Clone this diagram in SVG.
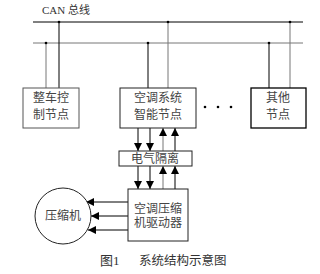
<svg xmlns="http://www.w3.org/2000/svg" width="320" height="274" viewBox="0 0 320 274">
<defs>
<style>
.ln{stroke:#000;stroke-width:1;fill:none}
.gl{stroke:#777;stroke-width:1;fill:none}
.bx{stroke:#222;stroke-width:1;fill:#fff}
.t{font-family:"Liberation Serif","Noto Sans CJK SC",serif;font-size:12px;fill:#444;text-anchor:middle}
.c{font-family:"Liberation Serif","Noto Sans CJK SC",serif;font-size:11px;fill:#333}
</style>
<marker id="ah" viewBox="0 0 8 8" refX="8" refY="4" markerWidth="8" markerHeight="8" markerUnits="userSpaceOnUse" orient="auto">
<path d="M0,0 L8,4 L0,8 Z" fill="#000"/>
</marker>
</defs>
<text class="c" x="42" y="14">CAN 总线</text>
<g id="connectors">
<line class="ln" x1="33" y1="22" x2="303" y2="22"/>
<line class="gl" x1="33" y1="43" x2="303" y2="43"/>
<line class="gl" x1="46" y1="43" x2="46" y2="88"/>
<line class="ln" x1="59" y1="22" x2="59" y2="88"/>
<line class="ln" x1="148" y1="43" x2="148" y2="88"/>
<line class="gl" x1="168" y1="22" x2="168" y2="88"/>
<line class="ln" x1="269" y1="43" x2="269" y2="88"/>
<line class="gl" x1="290" y1="22" x2="290" y2="88"/>
<g fill="#000">
<circle cx="59" cy="22" r="1.3"/><circle cx="168" cy="22" r="1.3"/><circle cx="290" cy="22" r="1.3"/>
<circle cx="46" cy="43" r="1.3"/><circle cx="148" cy="43" r="1.3"/><circle cx="269" cy="43" r="1.3"/>
<circle cx="205" cy="107" r="1.3"/><circle cx="218" cy="107" r="1.3"/><circle cx="231" cy="107" r="1.3"/>
</g>
<line class="ln" x1="138" y1="128" x2="138" y2="151" marker-end="url(#ah)"/>
<line class="ln" x1="150" y1="128" x2="150" y2="151" marker-end="url(#ah)"/>
<line class="gl" x1="163" y1="151" x2="163" y2="128" marker-end="url(#ah)"/>
<line class="ln" x1="175" y1="151" x2="175" y2="128" marker-end="url(#ah)"/>
<line class="ln" x1="138" y1="166" x2="138" y2="189" marker-end="url(#ah)"/>
<line class="ln" x1="150" y1="166" x2="150" y2="189" marker-end="url(#ah)"/>
<line class="gl" x1="163" y1="189" x2="163" y2="166" marker-end="url(#ah)"/>
<line class="ln" x1="175" y1="189" x2="175" y2="166" marker-end="url(#ah)"/>
<line class="ln" x1="128" y1="202" x2="86" y2="202" marker-end="url(#ah)"/>
<line class="ln" x1="128" y1="216" x2="91" y2="216" marker-end="url(#ah)"/>
<line class="ln" x1="128" y1="230" x2="88" y2="230" marker-end="url(#ah)"/>
</g>
<g id="node1">
<rect class="bx" x="23" y="88" width="56" height="40" style="stroke:#555"/>
<text class="t" x="51" y="102">整车控</text>
<text class="t" x="51" y="119">制节点</text>
</g>
<g id="node2">
<rect class="bx" x="120" y="88" width="76" height="40"/>
<text class="t" x="158" y="102">空调系统</text>
<text class="t" x="158" y="119">智能节点</text>
</g>
<g id="node3">
<rect class="bx" x="251" y="88" width="55" height="40" style="stroke:#000;stroke-width:1.3"/>
<text class="t" x="278" y="102">其他</text>
<text class="t" x="278" y="119">节点</text>
</g>
<g id="isolation">
<rect class="bx" x="119" y="151" width="73" height="15"/>
<text class="t" x="155" y="163">电气隔离</text>
</g>
<g id="driver">
<rect class="bx" x="128" y="189" width="60" height="52"/>
<text class="t" x="158" y="213">空调压缩</text>
<text class="t" x="158" y="227">机驱动器</text>
</g>
<g id="compressor">
<circle cx="63" cy="216" r="28" fill="#fff" stroke="#222" stroke-width="1"/>
<text class="t" x="63" y="220">压缩机</text>
</g>
<text class="c" x="100" y="265" style="font-size:13px">图1</text>
<text class="c" x="139" y="265" style="font-size:12.5px">系统结构示意图</text>
</svg>
